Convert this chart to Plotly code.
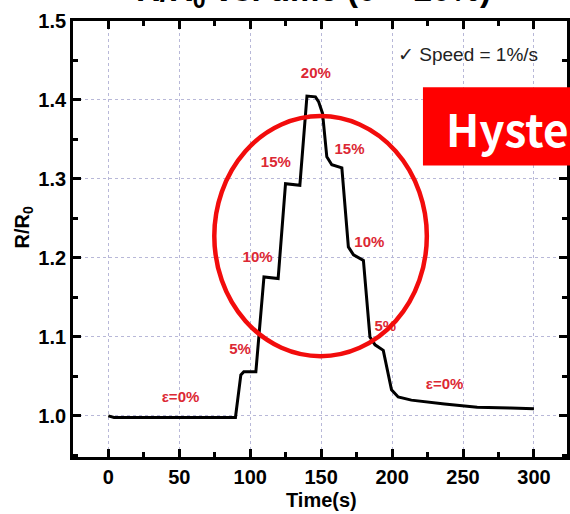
import plotly.graph_objects as go

# ---- data ----
time_s = [0, 4, 89.6, 93.4, 95.5, 104, 109.7, 119.7, 124.9, 135, 140, 146, 148.2, 151,
          154, 157.5, 164.6, 169.2, 172.8, 179.8, 184.4, 188, 193.8, 199.6, 204.3,
          213.6, 237, 260, 283.6, 300]
r_ratio = [1.000, 0.998, 0.998, 1.052, 1.056, 1.056, 1.176, 1.174, 1.294, 1.292, 1.405,
           1.404, 1.398, 1.383, 1.328, 1.318, 1.314, 1.214, 1.204, 1.197, 1.100, 1.090,
           1.083, 1.033, 1.024, 1.020, 1.015, 1.011, 1.010, 1.009]

label_text = ["ε=0%", "5%", "10%", "15%", "20%", "15%", "10%", "5%", "ε=0%"]
label_t = [50.9, 92.9, 105.2, 118.1, 146.3, 170.0, 184.0, 195.2, 237.0]
label_v = [1.0224, 1.0833, 1.1999, 1.3194, 1.4328, 1.3361, 1.2189, 1.1118, 1.0383]

x_ticks = [0, 50, 100, 150, 200, 250, 300]
y_ticks = [1.0, 1.1, 1.2, 1.3, 1.4, 1.5]
y_tick_labels = ["1.0", "1.1", "1.2", "1.3", "1.4", "1.5"]

# circle (ellipse) bounds in data units
circle_t = [74.7, 224.5]
circle_v = [1.0757, 1.3797]

LABEL_RED = "#dc2834"
GRID = "#b8b8d8"

fig = go.Figure()
fig.add_trace(go.Scatter(x=time_s, y=r_ratio, mode="lines",
                         line=dict(color="black", width=3), showlegend=False,
                         hoverinfo="skip"))

fig.add_trace(go.Scatter(x=label_t, y=label_v, mode="text", text=label_text,
                         textfont=dict(family="Liberation Sans, Arial", size=15,
                                       color=LABEL_RED, weight="bold"),
                         showlegend=False, hoverinfo="skip"))

axis_common = dict(
    showline=True, linecolor="black", linewidth=2.7, mirror="allticks",
    ticks="inside", ticklen=8, tickwidth=2.5, tickcolor="black",
    showgrid=True, gridcolor=GRID, gridwidth=1, griddash="dot",
    zeroline=False,
    tickfont=dict(family="Liberation Sans, Arial", size=20, color="black", weight="bold"),
)

fig.update_xaxes(range=[-24.9, 323.3], tickvals=x_ticks,
                 minor=dict(dtick=25, tick0=0, ticks="inside", ticklen=5,
                            tickwidth=2.5, tickcolor="black", showgrid=False),
                 **axis_common)
fig.update_yaxes(range=[0.948, 1.5], tickvals=y_ticks, ticktext=y_tick_labels,
                 minor=dict(dtick=0.05, tick0=1.0, ticks="inside", ticklen=5,
                            tickwidth=2.5, tickcolor="black", showgrid=False),
                 **axis_common)

# red ellipse
fig.add_shape(type="circle", xref="x", yref="y",
              x0=circle_t[0], x1=circle_t[1], y0=circle_v[0], y1=circle_v[1],
              line=dict(color="#f20c0c", width=4.5), layer="above")

# red "Hysteresis" banner (cut at right edge)
fig.add_shape(type="rect", xref="paper", yref="paper",
              x0=0.7084, x1=1.05, y0=0.6687, y1=0.8479,
              fillcolor="#ff0000", line=dict(width=0), layer="above")
fig.add_annotation(xref="paper", yref="paper", x=0.7507, y=0.7553,
                   xanchor="left", yanchor="middle", showarrow=False,
                   text="<b>Hyste</b>",
                   font=dict(family="Noto Sans CJK KR, Noto Sans", size=44, color="white"))

fig.add_annotation(xref="paper", yref="paper", x=0.6546, y=0.923,
                   xanchor="left", yanchor="middle", showarrow=False,
                   text="✓ Speed = 1%/s",
                   font=dict(family="Liberation Sans, Arial", size=19, color="#222222"))

# axis titles
fig.add_annotation(xref="paper", yref="paper", x=-0.0999, y=0.5255,
                   xanchor="center", yanchor="middle", showarrow=False, textangle=-90,
                   text="<b>R/R<sub>0</sub></b>",
                   font=dict(family="Liberation Sans, Arial", size=20, color="black"))
fig.add_annotation(xref="paper", yref="paper", x=0.5033, y=-0.0995,
                   xanchor="center", yanchor="middle", showarrow=False,
                   text="<b>Time(s)</b>",
                   font=dict(family="Liberation Sans, Arial", size=20, color="black"))

# title, mostly cut off at the top edge (as in the reference)
fig.add_annotation(xref="paper", yref="paper", x=0.487, y=1.067,
                   xanchor="center", yanchor="middle", showarrow=False,
                   text="<b>R/R<sub>0</sub> vs. time (0 ~ 20%)</b>",
                   font=dict(family="Liberation Sans, Arial", size=33, color="black"))

fig.update_layout(width=570, height=514,
                  margin=dict(l=73, r=0, t=21, b=57),
                  plot_bgcolor="white", paper_bgcolor="white",
                  showlegend=False)

fig.write_html("out.html")
